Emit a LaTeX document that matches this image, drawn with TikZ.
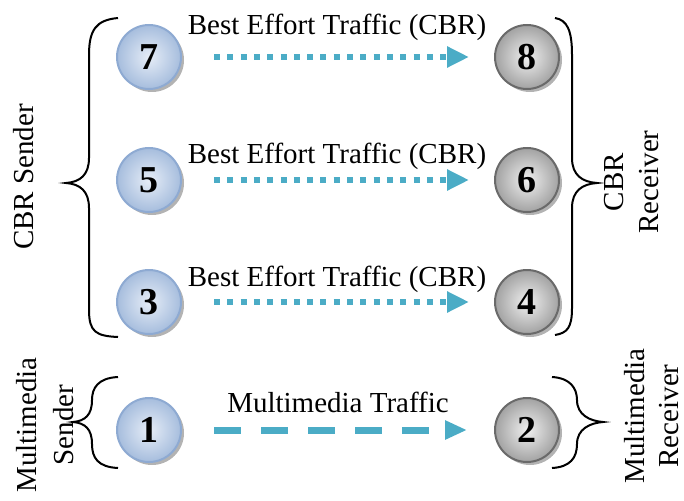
\documentclass[tikz,border=0pt]{standalone}
\usepackage{fontspec}
\setmainfont{Liberation Serif}
\usetikzlibrary{arrows.meta,shadows}
\definecolor{blueb}{HTML}{8EAAD2}
\definecolor{bluein}{HTML}{E6EDF7}
\definecolor{blueout}{HTML}{A6BDDD}
\definecolor{grayb}{HTML}{6A6A6A}
\definecolor{grayin}{HTML}{F0F0F0}
\definecolor{grayout}{HTML}{A2A2A2}
\definecolor{arrowc}{HTML}{4BACC6}
\begin{document}
\begin{tikzpicture}[x=1pt,y=-1pt,
  ball/.style={circle,minimum size=64pt,inner sep=0pt,line width=2pt,
    font=\fontsize{38}{38}\selectfont\bfseries,
    drop shadow={shadow xshift=3pt,shadow yshift=-3pt,fill=black!50,opacity=0.6}},
  sendball/.style={ball,draw=blueb,inner color=bluein,outer color=blueout},
  recvball/.style={ball,draw=grayb,inner color=grayin,outer color=grayout},
  lbl/.style={font=\fontsize{29}{35}\selectfont},
  bracep/.style={line width=2pt,black},
  cbr/.style={draw=arrowc,line width=6pt,line cap=butt,dash pattern=on 6pt off 7.3pt,
    -{Triangle[length=22pt,width=20pt]},shorten <=32pt,shorten >=25pt},
  mm/.style={draw=arrowc,line width=7pt,line cap=butt,dash pattern=on 27pt off 20pt,
    -{Triangle[length=22pt,width=18pt]},shorten <=32pt,shorten >=27pt}
]
\useasboundingbox (0,0) rectangle (684,500);
% nodes
\node[sendball] (n7) at (149,57) {7};
\node[sendball] (n5) at (149,180) {5};
\node[sendball] (n3) at (149,302) {3};
\node[sendball] (n1) at (149,430) {1};
\node[recvball] (n8) at (527,57) {8};
\node[recvball] (n6) at (527,180) {6};
\node[recvball] (n4) at (527,302) {4};
\node[recvball] (n2) at (527,430) {2};
% arrows
\draw[cbr] (n7.east) -- (n8.west);
\draw[cbr] (n5.east) -- (n6.west);
\draw[cbr] (n3.east) -- (n4.west);
\draw[mm] (n1.east) -- (n2.west);
% arrow labels
\node[lbl,anchor=base] (l1) at (337,35) {Best Effort Traffic (CBR)};
\node[lbl,anchor=base] (l2) at (337,163) {Best Effort Traffic (CBR)};
\node[lbl,anchor=base] (l3) at (337,286) {Best Effort Traffic (CBR)};
\node[lbl,anchor=base] (l4) at (338,412) {Multimedia Traffic};
% braces
\draw[bracep] (118,18) .. controls (96,20) and (89,30) .. (89,55) -- (89,158)
  .. controls (89,175) and (80,182) .. (66,183) .. controls (80,184) and (89,191) .. (89,208)
  -- (89,310) .. controls (89,332) and (96,336) .. (118,337);
\draw[bracep] (555,18) .. controls (567,20) and (572,30) .. (572,55) -- (572,158)
  .. controls (572,175) and (582,182) .. (597,183) .. controls (582,184) and (572,191) .. (572,208)
  -- (572,308) .. controls (572,328) and (567,333) .. (555,335);
\draw[bracep] (118,377) .. controls (98,378) and (92,388) .. (92,400)
  .. controls (92,415) and (85,421) .. (73,422) .. controls (85,423) and (92,429) .. (92,444)
  .. controls (92,458) and (98,467) .. (118,468);
\draw[bracep] (552,377) .. controls (570,378) and (577,388) .. (577,400)
  .. controls (577,415) and (590,421) .. (603,422) .. controls (590,423) and (577,429) .. (577,444)
  .. controls (577,458) and (570,467) .. (552,468);
% side labels
\node[lbl,rotate=90] (s1) at (24,177) {CBR Sender};
\node[lbl,rotate=90,align=center] (s2) at (632,182) {CBR\\Receiver};
\node[lbl,rotate=90,align=center,font=\fontsize{29}{37}\selectfont] (s3) at (45,425) {Multimedia\\Sender};
\node[lbl,rotate=90,align=center,font=\fontsize{29}{34}\selectfont] (s4) at (652,416) {Multimedia\\Receiver};
\end{tikzpicture}
\end{document}
